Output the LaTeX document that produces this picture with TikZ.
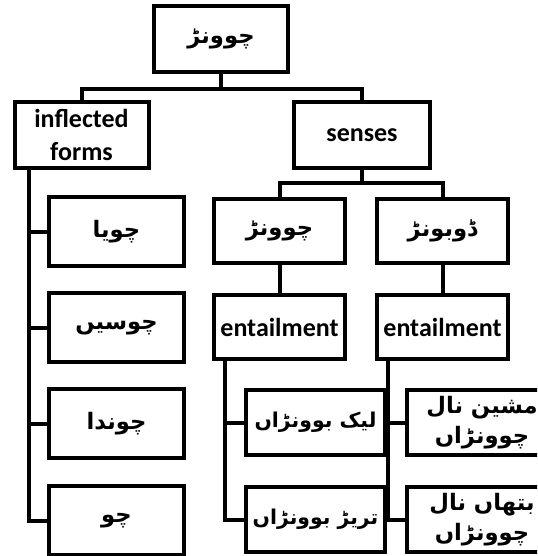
\documentclass[tikz,border=0pt]{standalone}
\usepackage{fontspec}
\setmainfont{Carlito}
\newfontfamily\urdufont[Script=Arabic]{DejaVu Sans}
\TeXXeTstate=1
\newcommand{\urd}[1]{{\urdufont\bfseries\beginR #1\endR}}

\begin{document}
\begin{tikzpicture}[x=0.75pt,y=-0.75pt,line width=3pt,
  box/.style={draw,fill=white,inner sep=0pt,minimum width=100.5pt,minimum height=49.5pt,
    align=center,font=\fontsize{19.5}{25}\selectfont\bfseries},
  ubox/.style={box,font=\fontsize{17}{23}\selectfont},
  tall/.style={minimum height=52pt}]
 \clip (0,0) rectangle (537,556);

 \node[ubox] (root) at (221,39) {\urd{چوونڑ}};
 \node[box] (infl) at (81.5,135) {inflected\\forms};
 \node[box,minimum width=102pt] (senses) at (362,135) {senses};

 \node[ubox,tall,minimum width=101pt] (f1) at (116.5,231.5) {\urd{چویا}};
 \node[ubox,tall,minimum width=101pt] (f2) at (116.5,327.5) {\urd{چوسیں}};
 \node[ubox,tall,minimum width=101pt] (f3) at (116.5,423.5) {\urd{چوندا}};
 \node[ubox,tall,minimum width=101pt] (f4) at (116.5,520.5) {\urd{چو}};

 \node[ubox,minimum width=98pt,minimum height=48pt] (s1) at (279.5,231) {\urd{چوونڑ}};
 \node[ubox,minimum width=98pt,minimum height=48pt] (s2) at (442.5,231) {\urd{ڈوبونڑ}};
 \node[box,minimum width=98pt,minimum height=48pt] (e1) at (279.5,327) {entailment};
 \node[box,minimum width=98pt,minimum height=48pt] (e2) at (442.5,327) {entailment};

 \node[ubox,minimum width=104pt,minimum height=49pt,font=\fontsize{15.3}{21}\selectfont] (m1) at (315.5,422.5) {\urd{لیک بوونڑاں}};
 \node[ubox,minimum width=104pt,minimum height=49pt,font=\fontsize{15.3}{21}\selectfont] (n1) at (315.5,519.5) {\urd{تریڑ بوونڑاں}};
 \node[ubox,minimum width=112pt,minimum height=49pt] (m2) at (482,422.5) {\urd{مشین نال}\\\urd{چوونڑاں}};
 \node[ubox,minimum width=112pt,minimum height=49pt] (n2) at (482,519.5) {\urd{بتھاں نال}\\\urd{چوونڑاں}};

 \coordinate (j0) at (221,89);
 \coordinate (j1) at (362,183);
 \coordinate (sp0) at (29,0);
 \coordinate (sp1) at (225,0);
 \coordinate (sp2) at (388,0);

 \draw (root) -- (j0);
 \draw (infl.north) -- (infl.north |- j0) -- (senses.north |- j0) -- (senses.north);
 \draw (senses) -- (j1);
 \draw (s1.north) |- (j1) -| (s2.north);
 \draw (s1) -- (e1);
 \draw (s2) -- (e2);

 \draw (sp0 |- infl.south) |- (f4.west);
 \foreach \i in {1,2,3}
  \draw (sp0 |- f\i.west) -- (f\i.west);
 \draw (sp1 |- e1.south) |- (n1.west);
 \draw (sp1 |- m1.west) -- (m1.west);
 \draw (sp2 |- e2.south) |- (n2.west);
 \draw (sp2 |- m2.west) -- (m2.west);
\end{tikzpicture}
\end{document}
